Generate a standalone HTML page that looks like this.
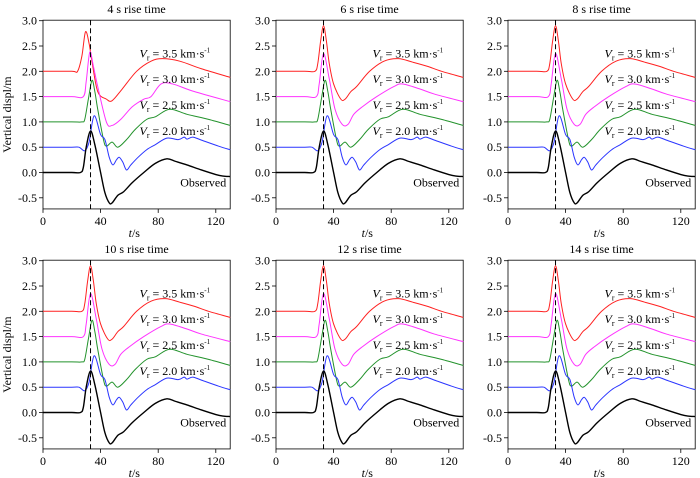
<!DOCTYPE html>
<html><head><meta charset="utf-8"><style>
body{margin:0;background:#fff}
svg{display:block}
svg, svg text, svg tspan{font-family:"Liberation Serif","Times New Roman",Times,serif !important;fill:#000}
</style></head><body>
<svg id="chart" width="700" height="478" viewBox="0 0 700 478" xmlns="http://www.w3.org/2000/svg" font-family="Liberation Serif, serif">
</svg>
<script>
const panelTitles = ["4 s rise time","6 s rise time","8 s rise time","10 s rise time","12 s rise time","14 s rise time"];
const xTicks = [0,40,80,120];
const yTicks = [-0.5,0,0.5,1,1.5,2,2.5,3];
const yTickLabels = ["-0.5","0.0","0.5","1.0","1.5","2.0","2.5","3.0"];
const refTime = 33;
const vrLabels = ["3.5","3.0","2.5","2.0"];
const vrLabelY = [2.35,1.85,1.33,0.82];
const seriesColors = ["#ff2020","#ff33ff","#22922b","#2a35ff","#000000"];
// observed
const obsT = [0,20,26,28,30,33,36,40,43,46,48,52,56,62,70,78,86,92,100,110,120,125,130];
const obsV = [0,0,0,0.1,0.5,0.82,0.55,0.0,-0.4,-0.6,-0.6,-0.45,-0.38,-0.2,0.0,0.18,0.27,0.22,0.15,0.05,-0.04,-0.07,-0.08];
// synthetic (8 s type)
const redT = [0,20,27,29,31,33,35,37,40,45,48,52,56,65,75,85,95,105,115,130];
const redV = [2,2,2,2.15,2.6,2.9,2.6,2.15,1.75,1.45,1.45,1.6,1.7,2.0,2.2,2.25,2.18,2.1,2.0,1.88];
const magT = [0,20,28,30,33,37,41,46,50,54,60,70,82,88,100,110,130];
const magV = [1.5,1.5,1.5,1.75,2.35,1.85,1.25,0.95,0.95,1.15,1.3,1.5,1.7,1.75,1.65,1.55,1.4];
const grnT = [0,20,27,29,31.5,34,36,38,42,44,48,52,58,64,72,78,88,100,115,130];
const grnV = [1,1,1,1.05,1.45,1.82,1.6,1.25,0.65,0.52,0.6,0.5,0.65,0.85,1.05,1.1,1.25,1.15,1.05,0.93];
const bluT = [0,20,25,29,32,35.5,40,43,46,48.5,51,53,55.5,58,61,66,72,78,86,94,98,100,104,110,122,130];
const bluV = [0.5,0.5,0.5,0.43,0.6,1.12,0.75,0.65,0.3,0.15,0.25,0.3,0.2,0.05,0.15,0.3,0.45,0.55,0.68,0.65,0.7,0.66,0.7,0.64,0.52,0.45];
// 4 s rise time overrides
const red4T = [0,20,24,27,29.5,32,34,38,44,48,55,65,75,83,95,110,130];
const red4V = [2,2,2,2.3,2.78,2.55,2.2,1.6,1.45,1.42,1.65,2.0,2.2,2.25,2.2,2.05,1.88];
const mag4T = [0,20,28,30,32.5,35,38,44,48,54,62,70,75,82,90,105,130];
const mag4V = [1.5,1.5,1.5,1.8,2.38,2.1,1.7,1.0,0.93,1.05,1.3,1.45,1.5,1.75,1.75,1.6,1.4];

const svg = document.getElementById('chart');
const NS = 'http://www.w3.org/2000/svg';
const FONT = 'Liberation Serif, Times New Roman, serif';
const colX0 = [43,276,508], rowY3 = [20.7,260.7];
const xs = 1.44, ys = 50.6, tMax = 130, vMax = 3.01, vMin = -0.72;
function el(tag, attrs, parent){const e=document.createElementNS(NS,tag);for(const k in attrs)e.setAttribute(k,attrs[k]);if(tag==='text')e.setAttribute('font-family',FONT);(parent||svg).appendChild(e);return e;}
function smoothPath(pts){
  let d='M'+pts[0][0].toFixed(2)+','+pts[0][1].toFixed(2);
  for(let i=0;i<pts.length-1;i++){
    const p0=pts[Math.max(0,i-1)],p1=pts[i],p2=pts[i+1],p3=pts[Math.min(pts.length-1,i+2)];
    const c1=[p1[0]+(p2[0]-p0[0])/6,p1[1]+(p2[1]-p0[1])/6];
    const c2=[p2[0]-(p3[0]-p1[0])/6,p2[1]-(p3[1]-p1[1])/6];
    d+='C'+c1[0].toFixed(2)+','+c1[1].toFixed(2)+' '+c2[0].toFixed(2)+','+c2[1].toFixed(2)+' '+p2[0].toFixed(2)+','+p2[1].toFixed(2);
  }
  return d;
}
for(let p=0;p<6;p++){
  const col=p%3,row=Math.floor(p/3);
  const X0=colX0[col],Y3=rowY3[row];
  const xf=t=>X0+t*xs, yf=v=>Y3+(3-v)*ys;
  const g=el('g',{});
  
  
  const left=xf(0),right=xf(tMax),top=yf(vMax),bot=yf(vMin);
  const frame=el('rect',{x:left,y:top,width:right-left,height:bot-top,fill:'none',stroke:'#000','stroke-width':0.8},g);
  
  
  const title=el('text',{x:(left+right)/2,y:top-7,'text-anchor':'middle','font-size':12},g);
  title.textContent=panelTitles[p];
  
  
  xTicks.forEach(t=>{
    el('line',{x1:xf(t),x2:xf(t),y1:bot,y2:bot+4,stroke:'#000','stroke-width':0.8},g);
    const tx=el('text',{x:xf(t),y:bot+16,'text-anchor':'middle','font-size':12},g);
    tx.textContent=t;
    
    
  });
  yTicks.forEach((v,i)=>{
    el('line',{x1:left-4,x2:left,y1:yf(v),y2:yf(v),stroke:'#000','stroke-width':0.8},g);
    const ty=el('text',{x:left-6,y:yf(v)+4,'text-anchor':'end','font-size':12},g);
    ty.textContent=yTickLabels[i];
    
    
  });
  const xl=el('text',{x:(left+right)/2-8,y:bot+28,'font-size':12},g);
  xl.innerHTML='<tspan font-style="italic">t</tspan>/s';
  
  
  if(col===0){
    const yl=el('text',{x:0,y:0,'text-anchor':'middle','font-size':12,transform:`translate(11,${(top+bot)/2}) rotate(-90)`},g);
    yl.textContent='Vertical displ/m';
    
    
  }
  const sets=[[p===0?red4T:redT,p===0?red4V:redV],[p===0?mag4T:magT,p===0?mag4V:magV],[grnT,grnV],[bluT,bluV],[obsT,obsV]];
  const names=['series-vr-3-5','series-vr-3-0','series-vr-2-5','series-vr-2-0','series-observed'];
  sets.forEach((s,i)=>{
    const pts=s[0].map((t,j)=>[xf(t),yf(s[1][j])]);
    const path=el('path',{d:smoothPath(pts),fill:'none',stroke:seriesColors[i],'stroke-width':i===4?1.4:1},g);
    
    
  });
  const dl=el('line',{x1:xf(refTime),x2:xf(refTime),y1:top,y2:bot,stroke:'#000','stroke-width':1,'stroke-dasharray':'5,3'},g);
  
  
  vrLabels.forEach((lab,i)=>{
    const t=el('text',{x:xf(67),y:yf(vrLabelY[i])+4,'font-size':12},g);
    t.innerHTML='<tspan font-style="italic">V</tspan><tspan font-size="8" dy="3">r</tspan><tspan dy="-3"> = '+lab+' km·s</tspan><tspan font-size="7" dy="-5">-1</tspan>';
    
    
  });
  const ob=el('text',{x:right-4,y:yf(-0.2)+4,'text-anchor':'end','font-size':12},g);
  ob.textContent='Observed';
  
  
}
</script>
</body></html>
